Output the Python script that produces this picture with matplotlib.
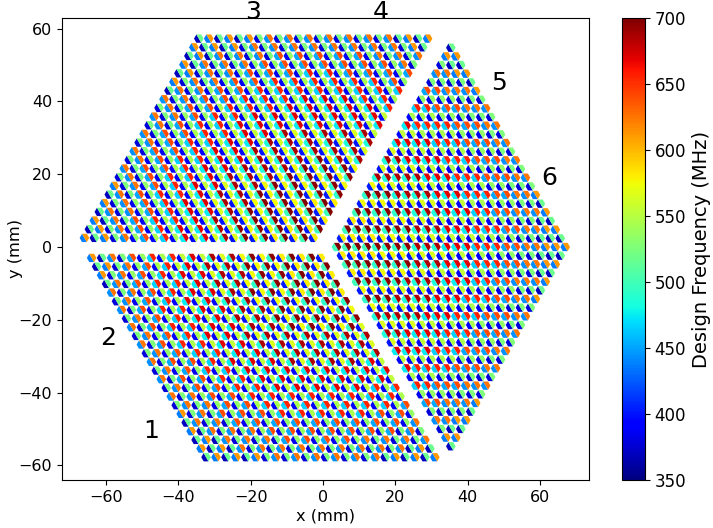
import numpy as np
import matplotlib
matplotlib.use('Agg')
import matplotlib.pyplot as plt
from matplotlib.path import Path

radius_edges = [14, 24, 33, 41, 48, 54, 60]
band_low = [402, 402, 400, 396, 392, 385, 378, 370]
band_mid = [498, 492, 485, 475, 465, 452, 444, 437]
band_high = [580, 575, 565, 555, 545, 535, 525, 518]
band_top = [700, 695, 685, 670, 655, 640, 625, 612]

wafer_labels = ['1', '2', '3', '4', '5', '6']
label_x = [-47.5, -59.5, -19.3, 16, 48.5, 62.5]
label_y = [-50.5, -25, 64.5, 64.5, 45, 19]

PITCH = 2.75
ROW = 2.38

# half hexagon markers, flat top, cut along the long diagonal
hy = np.sqrt(3) / 2
left_half = Path([(-0.5, hy), (-1, 0), (-0.5, -hy), (0.5, -hy), (-0.5, hy)])
right_half = Path([(-0.5, hy), (0.5, hy), (1, 0), (0.5, -hy), (-0.5, hy)])


def lookup(band, x, y):
    r = np.hypot(x, y)
    return np.array(band)[np.digitize(r, radius_edges)]


def draw_pixels(ax, x, y, kind):
    x = np.array(x)
    y = np.array(y)
    kind = np.array(kind)
    left = np.where(kind == 0, lookup(band_low, x, y), lookup(band_mid, x, y))
    right = np.where(kind == 0, lookup(band_high, x, y), lookup(band_top, x, y))
    opts = dict(s=48, cmap='jet', vmin=350, vmax=700, linewidths=0)
    ax.scatter(x, y, c=left, marker=left_half, **opts)
    return ax.scatter(x, y, c=right, marker=right_half, **opts)


fig = plt.figure(figsize=(7.13, 5.28), dpi=100)
ax = fig.add_axes([62 / 713, 1 - 480 / 528, 527 / 713, 462 / 528])

# upper left rhombus
xs, ys, kinds = [], [], []
for k in range(24):
    for i in range(24):
        xs.append(-66 + 1.375 * k + PITCH * i)
        ys.append(2.5 + ROW * k)
        kinds.append((i + k + 1) % 2)
draw_pixels(ax, xs, ys, kinds)

# lower left rhombus
xs, ys, kinds = [], [], []
for k in range(24):
    for i in range(24):
        xs.append(-64 + 1.375 * k + PITCH * i)
        ys.append(-3 - ROW * k)
        kinds.append((i + k + 1) % 2)
draw_pixels(ax, xs, ys, kinds)

# right rhombus
xs, ys, kinds = [], [], []
for k in range(-23, 24):
    n = 24 - abs(k)
    for i in range(n):
        xs.append(35.3 - (n - 1) * 1.375 + PITCH * i)
        ys.append(ROW * k)
        kinds.append((k + 1) % 2)
sc = draw_pixels(ax, xs, ys, kinds)

for t, x, y in zip(wafer_labels, label_x, label_y):
    ax.text(x, y, t, fontsize=18, ha='center', va='center', clip_on=False)

ax.set_xlim(-72.2, 73.5)
ax.set_ylim(-64, 62.9)
ax.set_xticks(np.arange(-60, 61, 20))
ax.set_yticks(np.arange(-60, 61, 20))
ax.tick_params(labelsize=11.5)
ax.set_xlabel('x (mm)', fontsize=11.7, labelpad=3)
ax.set_ylabel('y (mm)', fontsize=11.7, labelpad=-3)

cax = fig.add_axes([622 / 713, 1 - 480 / 528, 23 / 713, 462 / 528])
cb = fig.colorbar(sc, cax=cax)
cb.set_ticks(np.arange(350, 701, 50))
cb.ax.tick_params(labelsize=12)
cb.set_label('Design Frequency (MHz)', fontsize=14, labelpad=4)

plt.savefig('out.png', dpi=100)
